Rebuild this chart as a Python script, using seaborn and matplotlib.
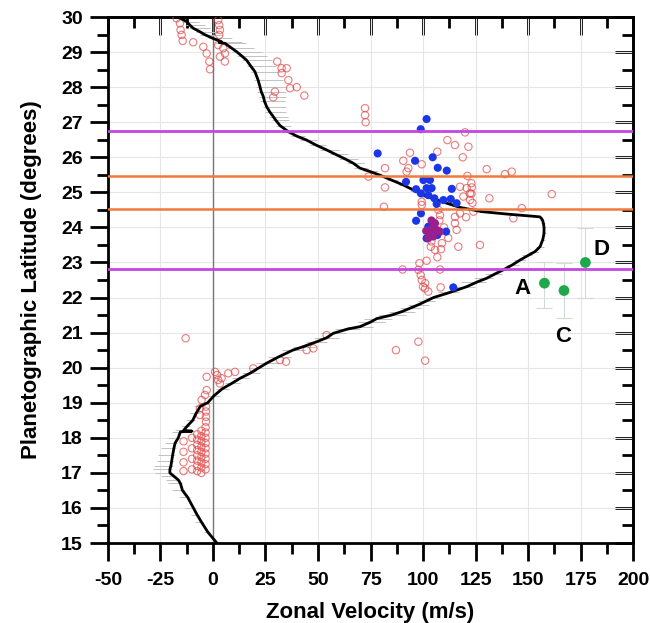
import matplotlib.pyplot as plt
import numpy as np
import pandas as pd
import seaborn as sns
from matplotlib.ticker import MultipleLocator

# zonal wind profile: latitude, velocity, error left/right (m/s)
prof_lat = [15.0, 15.3, 15.6, 15.8, 16.0, 16.3, 16.5, 16.7, 16.8, 16.9, 17.0, 17.1,
            17.2, 17.35, 17.5, 17.7, 17.85, 18.0, 18.17, 18.19, 18.21, 18.35, 18.5,
            18.7, 18.9, 19.0, 19.2, 19.4, 19.55, 19.7, 19.84, 20.0, 20.13, 20.3, 20.5,
            20.6, 20.74, 20.85, 20.98, 21.1, 21.17, 21.3, 21.4, 21.5, 21.6, 21.7, 21.8,
            21.9, 22.0, 22.15, 22.31, 22.45, 22.55, 22.68, 22.79, 22.93, 23.07, 23.2,
            23.31, 23.45, 23.65, 23.83, 24.0, 24.12, 24.22, 24.3, 24.32, 24.38, 24.45,
            24.57, 24.69, 24.88, 25.05, 25.21, 25.35, 25.49, 25.6, 25.69, 25.83, 25.95,
            26.08, 26.21, 26.35, 26.49, 26.6, 26.73, 26.9, 27.05, 27.16, 27.3, 27.44,
            27.6, 27.73, 27.87, 28.01, 28.2, 28.44, 28.6, 28.77, 28.9, 29.01, 29.13,
            29.25, 29.27, 29.3, 29.39, 29.5, 29.58, 29.68, 29.77, 29.87, 30.0]
prof_u = [1.9, -2.3, -5.5, -7.5, -9.3, -12.0, -14.5, -15.5, -16.5, -18.5, -20.5, -20.5,
          -20.0, -19.6, -19.2, -18.6, -18.0, -16.5, -15.5, -10.0, -14.0, -12.0, -9.6,
          -8.0, -6.0, -2.5, 0.5, 4.5, 8.9, 13.0, 17.6, 22.0, 25.6, 31.0, 38.0,
          43.0, 49.4, 54.0, 57.3, 64.0, 70.0, 75.0, 78.0, 85.0, 90.0, 94.0, 98.0,
          101.5, 105.0, 113.0, 120.8, 126.0, 130.3, 134.5, 138.2, 142.5, 146.2, 150.0,
          153.3, 155.7, 157.0, 157.6, 157.6, 157.3, 156.8, 155.7, 152.0, 140.0, 128.0,
          117.6, 111.3, 101.7, 96.0, 90.6, 85.0, 79.5, 74.5, 70.0, 66.8, 63.0,
          58.5, 54.1, 49.0, 44.6, 40.0, 35.9, 32.0, 30.0, 28.7, 27.0, 25.6,
          24.5, 24.0, 23.0, 22.4, 21.5, 20.0, 18.0, 16.0, 13.5, 11.3, 8.5,
          5.7, 3.0, 4.0, 0.0, -4.0, -6.2, -9.4, -11.0, -12.5, -16.5]
prof_err_lo = [1, 2, 3, 3, 4, 4, 5, 6, 6, 6, 7, 8,
               8, 7, 7, 6, 5, 5, 4, 2, 4, 3, 3,
               3, 3, 3, 3, 3, 3, 4, 4, 5, 5, 5, 5,
               5, 5, 6, 6, 6, 6, 6, 6, 6, 6, 5, 5,
               4, 4, 6, 6, 8, 6, 5, 4, 3, 3, 3,
               3, 2, 1, 1, 1, 1, 1, 1, 1, 1, 1,
               2, 2, 2, 2, 2, 2, 3, 3, 3, 3, 3,
               3, 3, 3, 3, 3, 3, 2, 2, 2, 2, 2,
               2, 2, 2, 2, 2, 2, 2, 2, 2, 2, 2,
               2, 2, 2, 2, 2, 2, 2, 2, 2, 2]
prof_err_hi = [1, 1, 1, 1, 1, 1, 1, 1, 1, 1, 1, 1,
               1, 1, 1, 1, 1, 1, 1, 1, 1, 1, 1,
               2, 2, 2, 3, 3, 4, 4, 5, 6, 6, 6, 6,
               6, 5, 6, 6, 6, 6, 7, 7, 7, 6, 5, 5,
               4, 4, 4, 4, 4, 3, 3, 3, 3, 3, 2,
               2, 2, 1, 1, 1, 1, 1, 1, 1, 1, 1,
               2, 2, 2, 2, 2, 3, 3, 4, 4, 5, 6,
               6, 6, 5, 5, 4, 4, 5, 6, 7, 8, 9,
               10, 11, 12, 12, 12, 12, 12, 12, 12, 12, 11,
               10, 10, 10, 9, 9, 9, 8, 7, 6, 4]

# individual tracked features (open red circles)
red_u = [-17.3, -15.7, -15.4, -14.9, -14.4, -9.4, -4.6, -3.0, -1.7, -1.4,
         2.5, 3.0, 3.3, 3.0, 2.5, 4.9, 5.7, 3.3, 5.7,
         30.6, 32.7, 35.1, 32.7, 35.9, 36.7, 39.9, 29.5, 28.7, 43.5,
         72.4, 72.4, 72.7,
         120.0, 111.6, 115.2, 121.6, 93.8, 106.8, 90.6, 99.4, 118.9, 93.0, 92.2,
         81.9, 74.0, 81.9, 121.1, 117.6, 120.8, 123.2, 122.4, 119.2, 122.4, 130.3,
         81.4, 99.4, 139.0, 142.2, 161.3, 131.6, 147.0, 143.0, 127.1, 123.0, 123.0,
         123.5, 124.0,
         99.4, 107.3, 108.1, 107.8, 115.2, 117.6, 120.5, 115.2, 116.0, 116.8, 103.7,
         105.7, 108.6, 106.8, 101.7, 98.3, 90.3, 108.1, 97.8, 98.9, 99.4, 101.0,
         101.0, 108.4, 102.5, 100.0, 110.0, 112.0, 104.0, 109.0,
         87.1, 97.8, 101.0, -13.0,
         54.1, 47.8, 44.6, 34.8, 31.9, 19.2, 10.5, 7.3, 1.0, 2.0, 4.1, 3.3, 2.5,
         -3.0, -3.0, -3.8, -5.4, -3.3, -3.3, -3.3, -3.3, -6.2, -6.2,
         -3.5, -3.5, -3.5, -3.5, -3.5, -3.5, -3.5, -3.5, -3.5,
         -5.5, -5.5, -5.5, -5.5, -5.5, -5.5, -5.5, -5.5, -5.5,
         -7.5, -7.5, -7.5, -7.5, -7.5, -7.5, -7.5, -7.5,
         -10.0, -10.0, -10.0, -10.0, -14.0, -14.0, -14.0, -14.0]
red_lat = [29.96, 29.82, 29.63, 29.49, 29.32, 29.28, 29.15, 28.96, 28.73, 28.51,
           29.91, 29.77, 29.63, 29.49, 29.2, 29.11, 28.96, 28.87, 28.73,
           28.73, 28.54, 28.54, 28.4, 28.2, 27.97, 28.0, 27.87, 27.71, 27.76,
           27.4, 27.2, 27.0,
           26.71, 26.49, 26.35, 26.3, 26.13, 26.16, 25.9, 25.8, 26.0, 25.69, 25.59,
           25.69, 25.45, 25.14, 25.47, 25.16, 25.12, 25.14, 24.97, 24.88, 24.78, 25.66,
           24.59, 24.73, 25.52, 25.59, 24.95, 24.83, 24.55, 24.26, 23.5, 25.26, 24.96,
           24.7, 24.45,
           24.64, 24.5, 24.35, 24.2, 24.3, 24.4, 24.29, 24.12, 23.93, 23.45, 23.45,
           23.36, 23.38, 23.15, 23.05, 22.98, 22.8, 22.8, 22.79, 22.64, 22.5, 22.41,
           22.26, 22.29, 22.17, 22.31, 24.0, 23.7, 23.6, 23.55,
           20.5, 20.74, 20.2, 20.84,
           20.93, 20.55, 20.5, 20.17, 20.22, 19.98, 19.88, 19.84, 19.88, 19.79, 19.7, 19.55, 19.65,
           19.74, 19.36, 19.22, 19.08, 18.89, 18.75, 18.6, 18.46, 18.84, 18.65,
           18.3, 18.15, 18.0, 17.85, 17.7, 17.55, 17.4, 17.25, 17.1,
           18.2, 18.05, 17.9, 17.75, 17.6, 17.45, 17.3, 17.15, 17.0,
           18.1, 17.95, 17.8, 17.65, 17.5, 17.35, 17.2, 17.05,
           18.0, 17.7, 17.4, 17.1, 17.9, 17.6, 17.3, 17.05]

# filled blue features
blue_u = [101.7, 98.9, 78.4, 96.2, 104.6, 107.0, 111.3, 91.9, 100.2, 103.3, 96.7,
          101.7, 104.1, 113.7, 99.0, 102.5, 105.4, 109.7, 113.2, 116.0, 106.5, 99.0,
          96.7, 102.5, 111.0, 101.7, 106.8, 114.4]
blue_lat = [27.09, 26.8, 26.11, 25.9, 26.0, 25.7, 25.62, 25.3, 25.35, 25.35, 25.09,
            25.12, 25.12, 25.1, 24.97, 24.92, 24.83, 24.78, 24.81, 24.69, 24.67, 24.4,
            24.19, 24.02, 23.88, 23.69, 23.78, 22.29]

# overlapping purple features
purple_u = [105.7, 104.1, 106.5, 103.3, 104.9, 102.5, 108.1, 104.0, 101.5]
purple_lat = [24.12, 23.97, 23.93, 23.83, 23.74, 23.69, 23.88, 24.2, 23.9]

# green points A, C, D
green_lab = ["A", "C", "D"]
green_u = [157.8, 167.1, 177.3]
green_lat = [22.41, 22.2, 23.0]
green_err_lo = [0.72, 0.79, 1.02]
green_err_hi = [0.61, 0.78, 0.97]

magenta_lat = [26.75, 22.8]
orange_lat = [25.47, 24.53]

sns.set_style("ticks")
plt.rcParams["font.family"] = ["Liberation Sans", "DejaVu Sans"]
plt.rcParams["font.weight"] = "bold"
plt.rcParams["axes.unicode_minus"] = False
plt.rcParams["text.color"] = "black"
plt.rcParams["axes.labelcolor"] = "black"
plt.rcParams["xtick.color"] = "black"
plt.rcParams["ytick.color"] = "black"

fig = plt.figure(figsize=(6.5, 6.23), dpi=100)
ax = fig.add_axes([0.166, 0.1284, 0.808, 0.8443])

ax.grid(True, color="#e6e6e6", lw=0.8, zorder=0)
ax.axvline(0, color="#777777", lw=1.0, zorder=1)

ax.errorbar(prof_u, prof_lat, xerr=[prof_err_lo, prof_err_hi], fmt="none",
            ecolor="#c2c2c2", elinewidth=0.7, capsize=0, zorder=2)

red = pd.DataFrame({"u": red_u, "lat": red_lat})
sns.scatterplot(data=red, x="u", y="lat", ax=ax, marker="o", s=28,
                facecolors="none", edgecolor="#e04545", linewidth=0.8,
                alpha=0.7, zorder=3)

prof = pd.DataFrame({"u": prof_u, "lat": prof_lat})
sns.lineplot(data=prof, x="u", y="lat", ax=ax, sort=False, estimator=None,
             color="black", lw=2.0, zorder=4)

blue = pd.DataFrame({"u": blue_u, "lat": blue_lat})
sns.scatterplot(data=blue, x="u", y="lat", ax=ax, s=34, color="#1a36e6",
                edgecolor="none", zorder=5)
purple = pd.DataFrame({"u": purple_u, "lat": purple_lat})
sns.scatterplot(data=purple, x="u", y="lat", ax=ax, s=34, color="#9a1f8e",
                edgecolor="none", zorder=6)

for y in magenta_lat:
    ax.axhline(y, color="#c546e0", lw=2.0, zorder=7)
for y in orange_lat:
    ax.axhline(y, color="#f07a3c", lw=1.8, zorder=7)

ax.errorbar(green_u, green_lat, yerr=[green_err_lo, green_err_hi], fmt="none",
            ecolor="#cfdcd4", elinewidth=0.8, capsize=6, capthick=0.8, zorder=6)
green = pd.DataFrame({"u": green_u, "lat": green_lat})
sns.scatterplot(data=green, x="u", y="lat", ax=ax, s=60, color="#1fa84a",
                edgecolor="none", zorder=8)
lab_off = [(-10.3, -0.14), (-0.3, -1.32), (7.5, 0.36)]
for lab, u, lat, (dx, dy) in zip(green_lab, green_u, green_lat, lab_off):
    ax.text(u + dx, lat + dy, lab, fontsize=16, fontweight="bold",
            ha="center", va="center", zorder=9)

ax.set_xlim(-50, 200)
ax.set_ylim(15, 30)
ax.xaxis.set_major_locator(MultipleLocator(25))
ax.xaxis.set_minor_locator(MultipleLocator(25, 12.5))
ax.yaxis.set_major_locator(MultipleLocator(1))
ax.yaxis.set_minor_locator(MultipleLocator(1, 0.5))
ax.tick_params(which="major", direction="out", length=13, width=2,
               labelsize=14, top=False, right=False)
ax.tick_params(axis="x", which="major", pad=8)
ax.tick_params(axis="y", which="major", pad=5)
ax.tick_params(which="minor", direction="out", length=8, width=2,
               top=False, right=False)
for s in ax.spines.values():
    s.set_linewidth(2)
    s.set_color("black")

# inward ticks on top and right
tx = ax.secondary_xaxis("top")
tx.xaxis.set_major_locator(MultipleLocator(25))
tx.xaxis.set_minor_locator(MultipleLocator(25, 12.5))
tx.tick_params(which="major", direction="in", length=13, width=2, labeltop=False)
tx.tick_params(which="minor", direction="in", length=8, width=2)
ry = ax.secondary_yaxis("right")
ry.yaxis.set_major_locator(MultipleLocator(1))
ry.yaxis.set_minor_locator(MultipleLocator(1, 0.5))
ry.tick_params(which="major", direction="in", length=13, width=2, labelright=False)
ry.tick_params(which="minor", direction="in", length=8, width=2)
for sec in (tx, ry):
    for s in sec.spines.values():
        s.set_linewidth(2)

for t in ax.get_xticklabels() + ax.get_yticklabels():
    t.set_fontweight("bold")
ax.set_xlabel("Zonal Velocity (m/s)", fontsize=16, fontweight="bold", labelpad=9)
ax.set_ylabel("Planetographic Latitude (degrees)", fontsize=16,
              fontweight="bold", labelpad=14)

fig.savefig("out.png", dpi=100)
